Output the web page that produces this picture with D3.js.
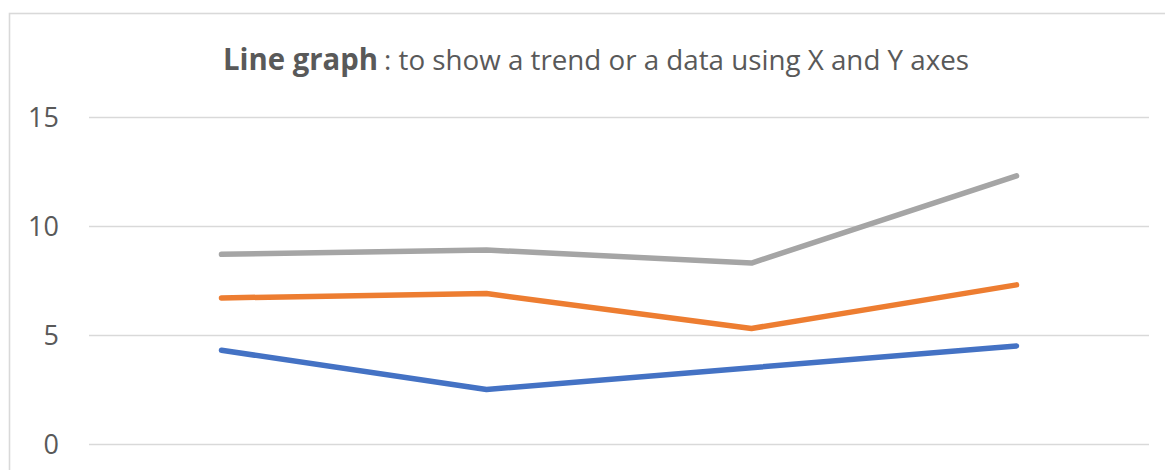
<html>
<head>
    <script src="https://d3js.org/d3.v7.min.js"></script>
    <style>
        body { margin: 0; background: #fff; }
    </style>
</head>
<body>

<script>
// data (plotted values)
var categories = ["1", "2", "3", "4"];
var series1 = [4.3, 2.5, 3.5, 4.5];
var series2 = [6.7, 6.9, 5.3, 7.3];
var series3 = [8.7, 8.9, 8.3, 12.3];
var yTicks = [0, 5, 10, 15];

var w = 1165; //寬
var h = 470;  //高
var left = 89, right = 1149; //plot area
var top0 = 117, bottom = 444;

var svg = d3.select('body').append('svg').attr('width', w).attr('height', h);

// chart frame
svg.append("rect").attr("x", 9.5).attr("y", 13.5).attr("width", w + 20).attr("height", h + 20)
    .attr("fill", "#fff").attr("stroke", "#d9d9d9").attr("stroke-width", 1.6);

var xScale = d3.scalePoint().domain(categories).range([left, right]).padding(0.5);
var yScale = d3.scaleLinear().domain([0, 15]).range([bottom, top0]);

//gridlines + y labels
var yAxis = d3.axisLeft(yScale).tickValues(yTicks).tickSize(-(right - left)).tickPadding(30);
var yG = svg.append("g").attr("transform", "translate(" + left + ",0)").call(yAxis);
yG.select(".domain").remove();
yG.selectAll(".tick line").attr("stroke", "#d9d9d9").attr("stroke-width", 1.6);
yG.selectAll(".tick text").attr("fill", "#595959").attr("font-family", "Open Sans")
    .attr("font-size", 27).attr("dy", "0.36em");

//lines
var line = d3.line().x(function(d, i){ return xScale(categories[i]); }).y(function(d){ return yScale(d); });
var lines = [[series1, "#4472c4"], [series2, "#ed7d31"], [series3, "#a5a5a5"]];
lines.forEach(function(s){
    svg.append("path").attr("d", line(s[0])).attr("fill", "none").attr("stroke", s[1])
        .attr("stroke-width", 5.5).attr("stroke-linecap", "round").attr("stroke-linejoin", "round");
});

//title
svg.append("text").attr("x", 223).attr("y", 70).attr("font-family", "Open Sans").attr("font-weight", "bold")
    .attr("font-size", 30).attr("fill", "#595959").attr("textLength", 155).attr("lengthAdjust", "spacingAndGlyphs")
    .text("Line graph");
svg.append("text").attr("x", 384).attr("y", 70).attr("font-family", "Open Sans")
    .attr("font-size", 28).attr("fill", "#595959").attr("textLength", 585).attr("lengthAdjust", "spacingAndGlyphs")
    .text(": to show a trend or a data using X and Y axes");
</script>

</body>
</html>
